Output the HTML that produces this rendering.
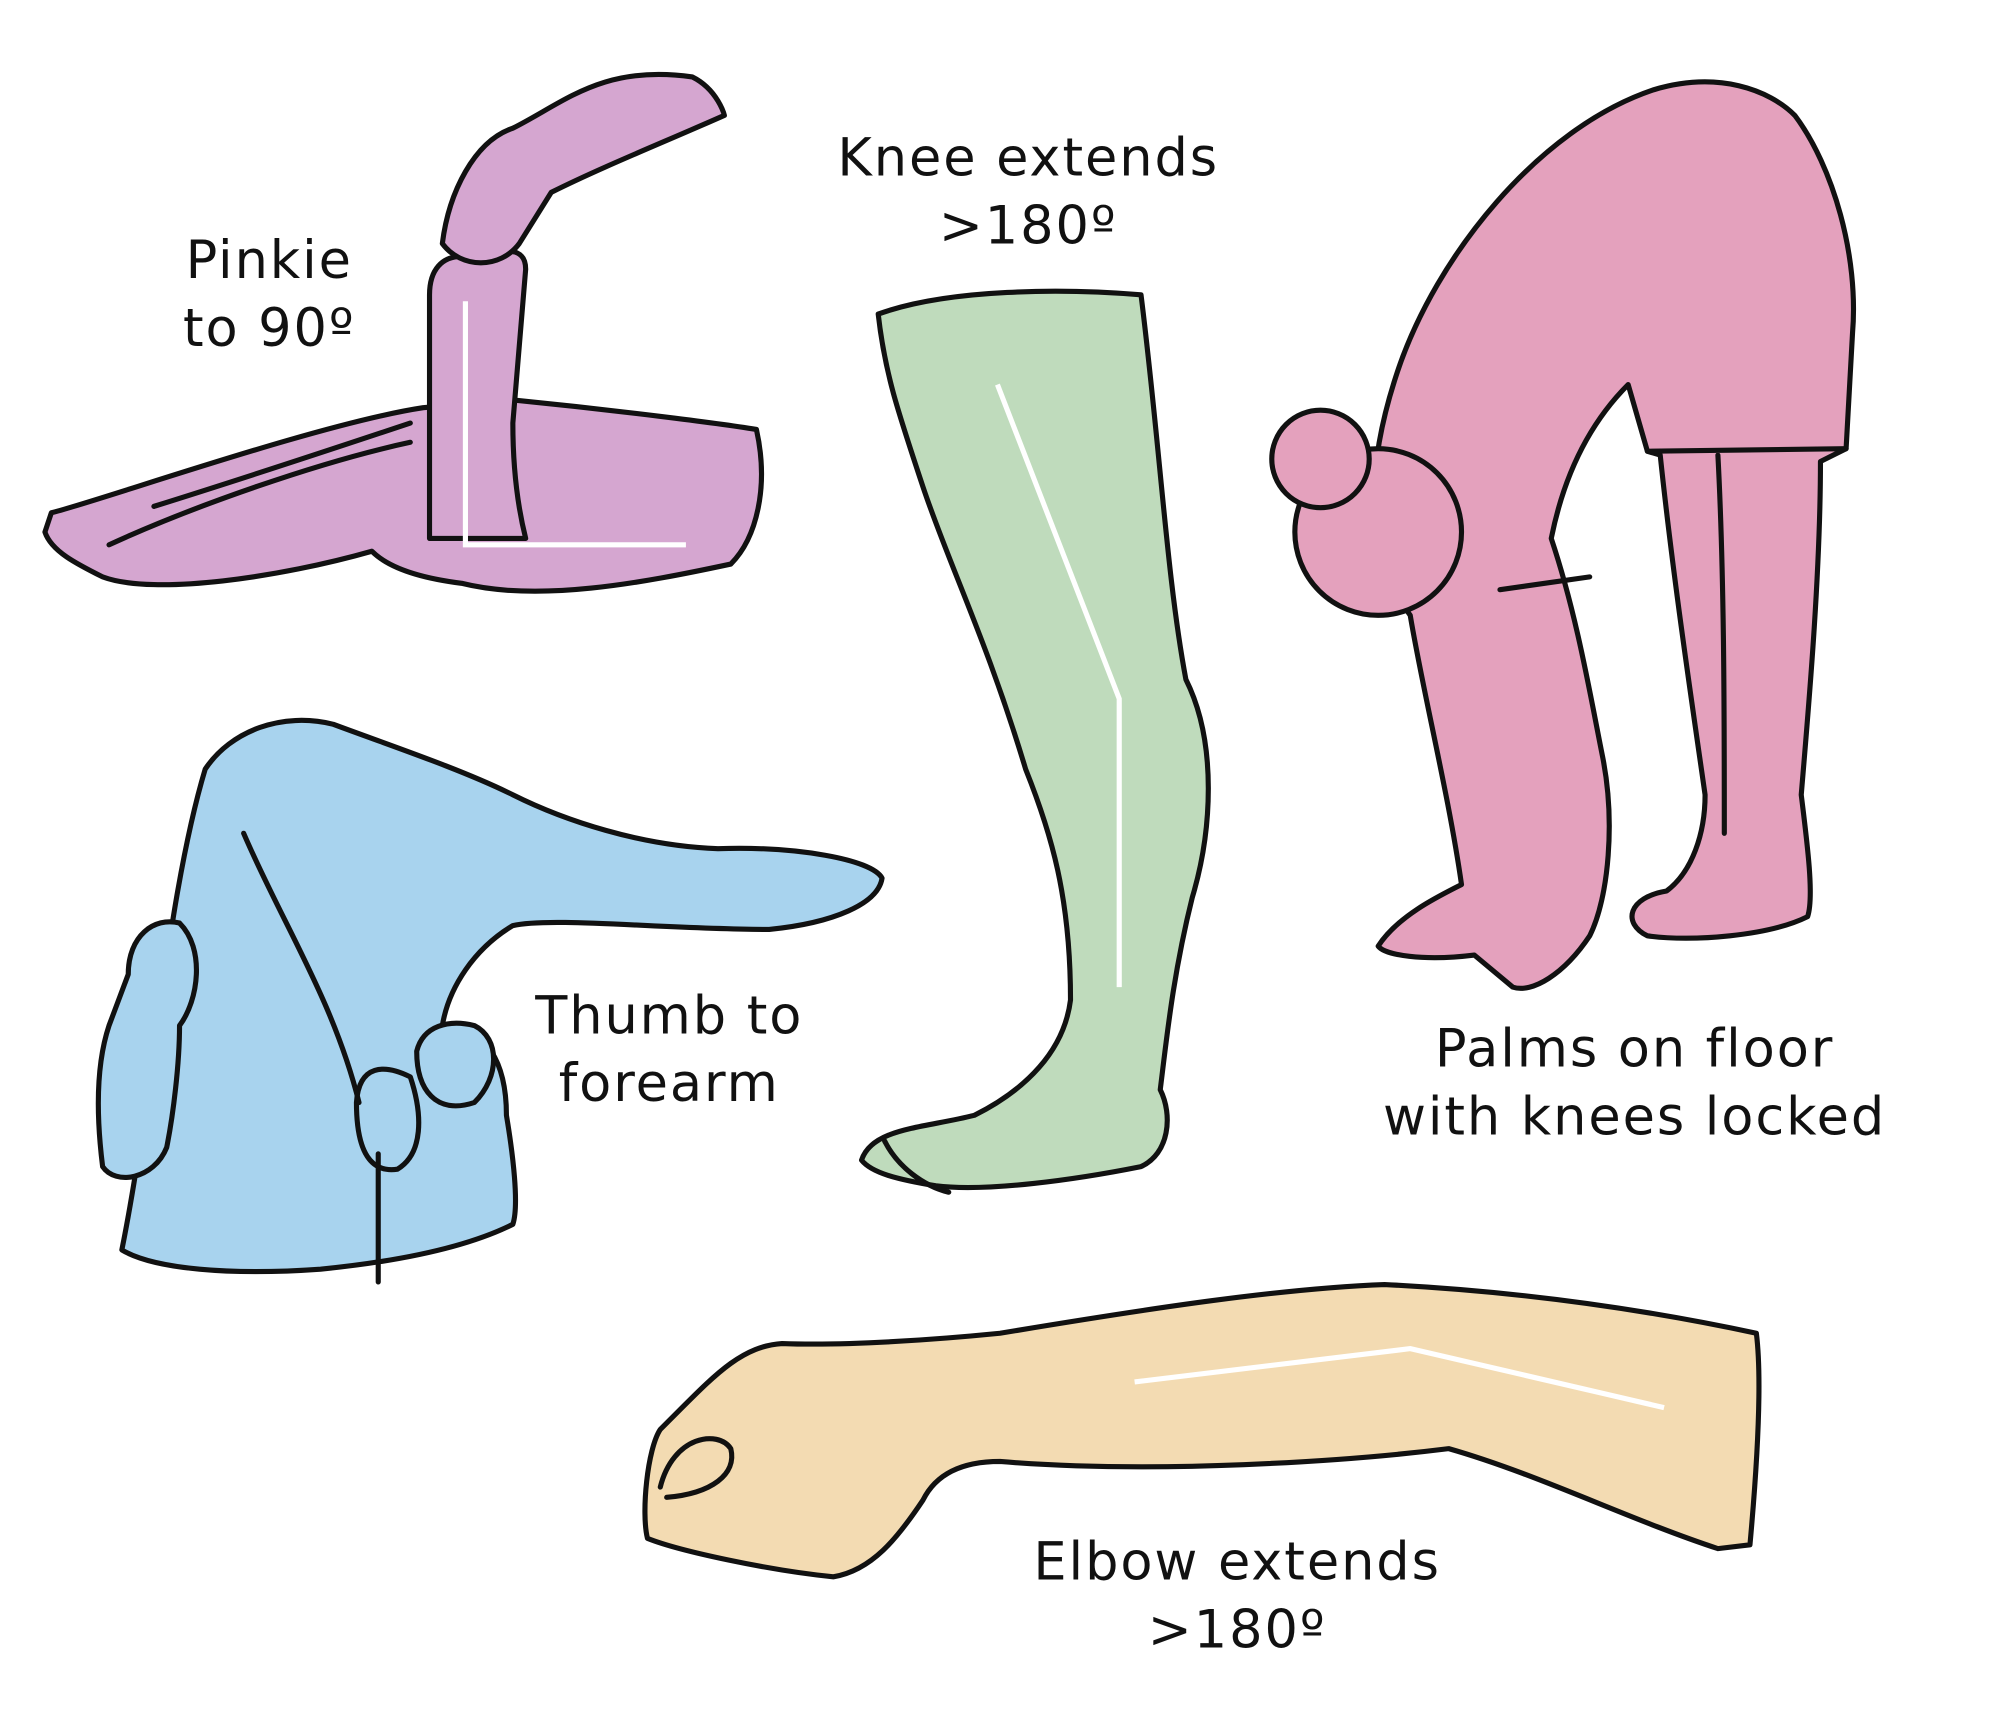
<!DOCTYPE html>
<html><head><meta charset="utf-8"><style>
html,body{margin:0;padding:0;background:#fff;}
svg{display:block;}
text{font-family:"DejaVu Sans","Liberation Sans",sans-serif;font-size:41px;letter-spacing:1.5px;fill:#111;text-anchor:middle;}
</style></head><body>
<svg width="2000" height="1714" viewBox="0 0 1560 1337" xmlns="http://www.w3.org/2000/svg">
<g stroke="#111" stroke-width="4" stroke-linejoin="round" stroke-linecap="round">
<!-- purple hand -->
<path fill="#d5a6d0" d="M40,400 C80,390 250,330 330,318 L400,312 C480,320 560,330 590,335 C600,380 590,420 570,440 C500,455 420,470 360,455 C320,450 300,440 290,430 C220,450 120,465 80,450 C60,440 40,430 35,415 Z"/>
<path fill="#d5a6d0" d="M335,420 L335,230 C335,210 345,200 360,200 C390,195 410,190 410,210 L400,330 C400,370 405,400 410,420 Z"/>
<path fill="#d5a6d0" d="M345,190 C350,150 370,110 400,100 C440,80 470,50 540,60 C560,70 565,90 565,90 C520,110 470,130 430,150 L405,190 C390,210 360,210 345,190 Z"/>
<path fill="none" d="M85,425 C150,395 250,360 320,345 M120,395 C200,370 260,350 320,330"/>
<!-- blue hand -->
<path fill="#a8d3ee" d="M95,975 C120,850 130,700 160,600 C180,570 220,555 260,565 C300,580 360,600 400,620 C440,640 500,660 560,662 C620,660 680,670 688,685 C685,705 650,720 600,725 C520,725 430,715 400,722 C370,740 350,770 345,800 C380,800 395,830 395,870 C400,900 405,940 400,955 C360,975 300,985 250,990 C180,995 120,990 95,975 Z"/>
<path fill="#a8d3ee" d="M100,760 C100,730 120,715 140,720 C160,740 155,780 140,800 C140,830 135,870 130,895 C120,920 90,925 80,910 C75,870 75,830 85,800 Z"/>
<path fill="#a8d3ee" d="M325,820 C330,800 350,795 370,800 C390,810 390,840 370,860 C340,870 325,850 325,820 Z"/>
<path fill="#a8d3ee" d="M278,860 C280,830 300,830 320,840 C330,870 330,900 310,912 C290,915 278,900 278,860 Z"/>
<path fill="none" d="M190,650 C220,720 260,780 280,860 M295,900 L295,1000"/>
<!-- green leg -->
<path fill="#bfdbbc" d="M685,245 C740,225 830,225 890,230 C905,350 910,450 925,530 C950,580 945,650 930,700 C915,760 910,810 905,850 C915,870 912,900 890,910 C840,920 770,930 730,925 C700,920 680,915 672,905 C680,880 720,880 760,870 C800,850 830,820 835,780 C835,700 820,650 800,600 C770,500 740,440 720,380 C700,320 690,290 685,245 Z"/>
<path fill="none" d="M690,890 C700,910 720,925 740,930"/>
<!-- pink person -->
<path fill="#e4a1bd" d="M1090,290 C1120,200 1200,100 1290,70 C1340,55 1380,70 1400,90 C1430,130 1450,200 1445,260 L1440,350 L1420,360 C1420,450 1410,560 1405,620 C1410,660 1415,700 1410,715 C1380,730 1320,735 1285,730 C1265,720 1270,700 1300,695 C1320,680 1330,650 1330,620 C1320,550 1305,450 1295,355 L1285,352 L1270,300 C1240,330 1220,370 1210,420 C1230,480 1240,540 1250,590 C1260,640 1255,700 1240,730 C1220,760 1195,775 1180,770 L1150,745 C1110,750 1080,745 1075,738 C1090,715 1120,700 1140,690 C1130,620 1110,540 1100,480 C1070,440 1060,380 1090,290 Z"/>
<circle cx="1075" cy="415" r="65" fill="#e4a1bd"/>
<circle cx="1030" cy="358" r="38" fill="#e4a1bd"/>
<path fill="none" d="M1285,352 L1440,350 M1340,355 C1345,450 1345,560 1345,650 M1170,460 L1240,450"/>
<!-- arm -->
<path fill="#f3dbb2" d="M530,1100 C560,1070 580,1050 610,1048 C660,1050 730,1045 780,1040 C900,1020 1000,1005 1080,1002 C1200,1008 1300,1025 1370,1040 C1375,1080 1370,1150 1365,1205 L1340,1208 C1270,1185 1200,1150 1130,1130 C1050,1140 900,1150 780,1140 C750,1140 730,1150 720,1170 C700,1200 680,1225 650,1230 C600,1225 530,1210 505,1200 C500,1180 505,1130 515,1115 Z"/>
<path fill="none" d="M515,1160 C525,1120 560,1115 570,1130 C575,1150 555,1165 520,1168"/>
</g>
<g stroke="#fff" stroke-width="4" fill="none">
<path d="M363,235 L363,425 L535,425"/>
<path d="M778,300 L873,545 L873,770"/>
<path d="M885,1078 L1100,1052 L1298,1098"/>
</g>
<text x="210" y="217">Pinkie</text>
<text x="210" y="270">to 90º</text>
<text x="802" y="137">Knee extends</text>
<text x="802" y="190">&gt;180º</text>
<text x="522" y="806">Thumb to</text>
<text x="522" y="859">forearm</text>
<text x="1275" y="832">Palms on floor</text>
<text x="1275" y="885">with knees locked</text>
<text x="965" y="1232">Elbow extends</text>
<text x="965" y="1285">&gt;180º</text>
</svg>
</body></html>
